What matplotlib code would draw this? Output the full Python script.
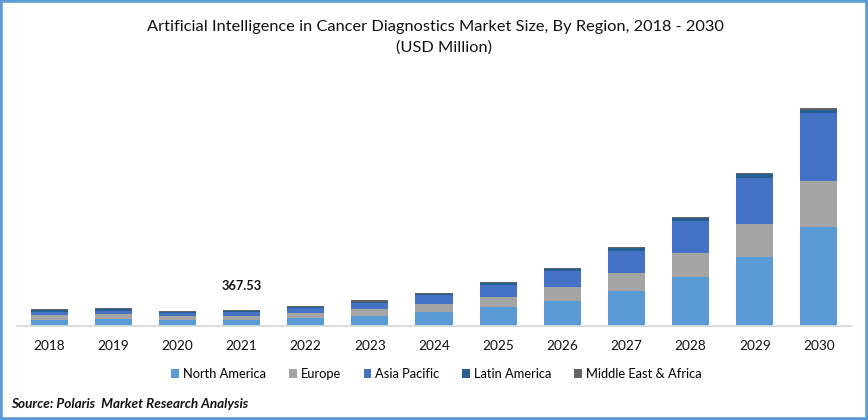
"""AI in cancer diagnostics market size by region, stacked bars"""
import matplotlib
matplotlib.use('Agg')
import matplotlib.pyplot as plt
from matplotlib.patches import Rectangle

# ---------- data (USD million) ----------
years = ['2018', '2019', '2020', '2021', '2022', '2023', '2024',
         '2025', '2026', '2027', '2028', '2029', '2030']
north_america = [138, 161, 131, 137.8, 191, 230, 322, 437, 575, 805, 1127, 1587, 2277]
europe        = [115, 115, 99, 92, 108, 161, 184, 230, 322, 414, 552, 759, 1058]
asia_pacific  = [76, 76, 69, 99, 115, 138, 207, 276, 368, 506, 736, 1058, 1564]
latin_america = [39, 30, 23, 16, 16, 30, 30, 39, 39, 69, 69, 92, 69]
mea           = [23, 30, 23, 22.73, 30, 39, 16, 30, 30, 23, 23, 23, 46]

series = [('North America', north_america, '#5B9BD5'),
          ('Europe', europe, '#A5A5A5'),
          ('Asia Pacific', asia_pacific, '#4472C4'),
          ('Latin America', latin_america, '#255E91'),
          ('Middle East & Africa', mea, '#636363')]

FONT = 'Lato'
W, H = 868, 420
BORDER = '#5B9BD5'

fig = plt.figure(figsize=(W / 100, H / 100), dpi=100, facecolor='white')

# plot area in pixels: x 17..851, baseline at y 326
ax = fig.add_axes([17 / W, (H - 326) / H, 834 / W, 226 / H])
ax.set_xlim(-0.5, 12.5)
ax.set_ylim(0, 226 * 23)

bottom = [0] * len(years)
for name, vals, col in series:
    ax.bar(range(len(years)), vals, width=0.578, bottom=bottom, color=col, label=name)
    bottom = [b + v for b, v in zip(bottom, vals)]

for s in ('top', 'left', 'right'):
    ax.spines[s].set_visible(False)
ax.spines['bottom'].set_color('#D9D9D9')
ax.spines['bottom'].set_linewidth(1.3)
ax.set_yticks([])
ax.set_xticks(range(len(years)))
ax.set_xticklabels(years, fontsize=9.8, fontfamily=FONT, color='#111111')
ax.tick_params(axis='x', length=0, pad=10)

# value label over 2021
ax.annotate('367.53', xy=(3, bottom[3]), xytext=(0, 17.3), textcoords='offset points',
            ha='center', va='center', fontsize=9.2, fontweight='bold',
            fontfamily=FONT, color='#111111')

# ---------- title ----------
fig.text(435.5 / W, 1 - 27 / H, 'Artificial Intelligence in Cancer Diagnostics Market Size, By Region, 2018 - 2030',
         ha='center', va='center', fontsize=11.8, fontfamily=FONT, color='#111111')
fig.text(444 / W, 1 - 48 / H, '(USD Million)', ha='center', va='center',
         fontsize=11.8, fontfamily=FONT, color='#111111')

# ---------- legend ----------
fig.legend(loc='center', bbox_to_anchor=(436.5 / W, 1 - 374 / H), ncols=5, frameon=False,
           handlelength=0.6, handleheight=0.6, handletextpad=0.32, columnspacing=1.75,
           prop={'family': FONT, 'size': 9.3})

# ---------- source ----------
fig.text(11 / W, 1 - 403.5 / H, 'Source: Polaris  Market Research Analysis', ha='left', va='center',
         fontsize=9.7, fontweight='bold', fontstyle='italic', fontfamily=FONT, color='#111111')

# outer frame
fig.add_artist(Rectangle((0, 0), 1, 1, transform=fig.transFigure, fill=False,
                         edgecolor=BORDER, linewidth=4))

plt.savefig('out.png', dpi=100, facecolor='white')
plt.close()
